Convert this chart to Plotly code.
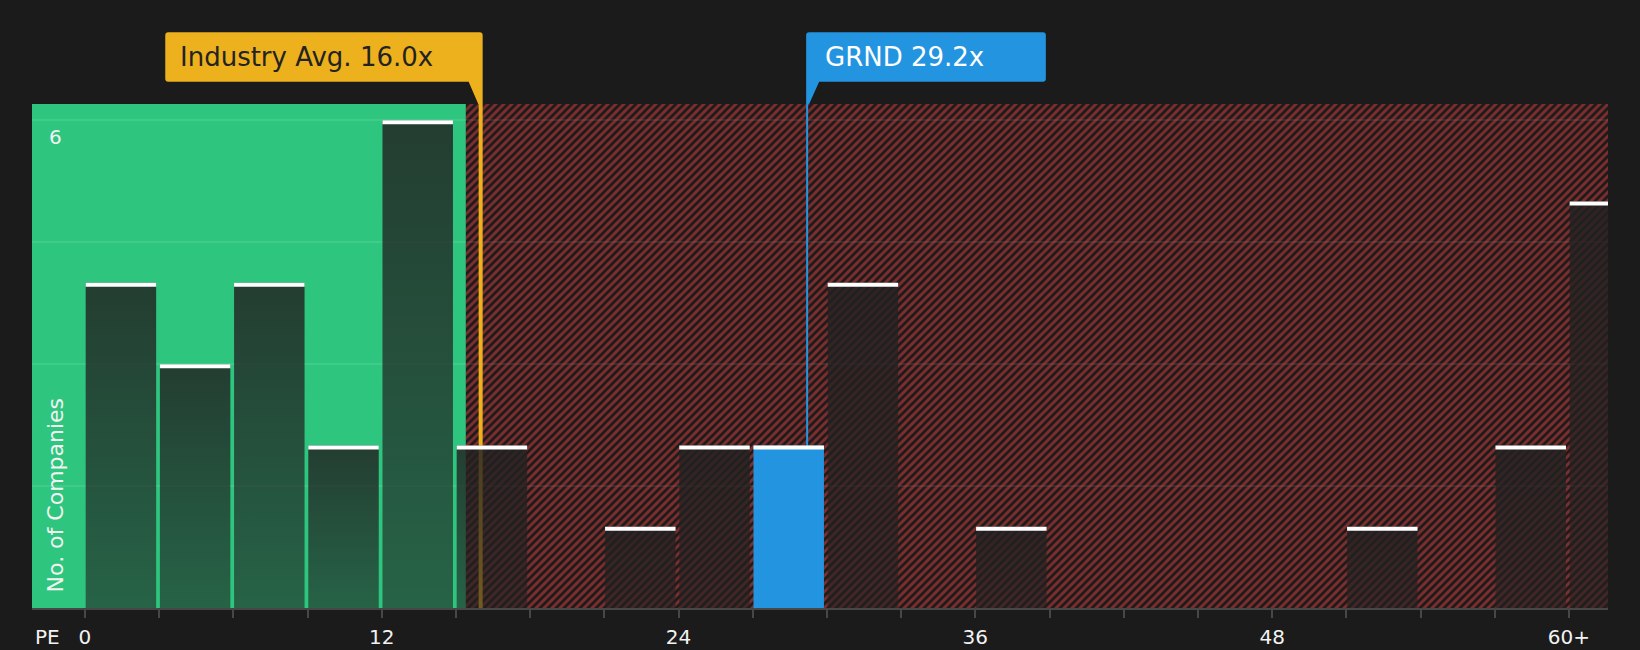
import plotly.graph_objects as go

# peers grouped by PE ratio, bins 3x wide (last bin is 60x and above)
bin_starts = [0, 3, 6, 9, 12, 15, 18, 21, 24, 27, 30, 33, 36, 39, 42, 45, 48, 51, 54, 57, 60]
companies = [4, 3, 4, 2, 6, 2, 0, 1, 2, 2, 4, 0, 1, 0, 0, 0, 0, 1, 0, 2, 5]

x_ticks = [0, 12, 24, 36, 48, 60]
x_tick_text = ['0', '12', '24', '36', '48', '60+']
y_grid = [1.5, 3, 4.5, 6]

industry_avg = 16.0
company_name = 'GRND'
company_pe = 29.2
green_zone_end = 15.4

x_range = [-2.14, 61.58]
y_range = [0, 6.2]
bin_width = 3
bar_width = 2.85
bar_pad = 0.03

BG = '#1b1b1b'
GREEN = '#2ec67f'
RED = '#e5403f'
YELLOW = '#eeb11e'
BLUE = '#2394df'
AXIS = '#474747'
FONT = 'DejaVu Sans'

fig = go.Figure()

# red hatched zone to the right of the green band
fig.add_trace(go.Scatter(
    x=[green_zone_end, green_zone_end, x_range[1], x_range[1], green_zone_end],
    y=[y_range[0], y_range[1], y_range[1], y_range[0], y_range[0]],
    mode='none', fill='toself', fillcolor='rgba(0,0,0,0)',
    fillpattern=dict(shape='/', fgcolor=RED, bgcolor='rgba(0,0,0,0)', size=5.657, solidity=0.5),
    hoverinfo='skip', showlegend=False))

# marker lines (under the bars)
for val, col, w in [(industry_avg, YELLOW, 4), (company_pe, BLUE, 2)]:
    fig.add_trace(go.Scatter(x=[val, val], y=y_range, mode='lines',
                             line=dict(color=col, width=w), hoverinfo='skip', showlegend=False))

for start, n in zip(bin_starts, companies):
    if n == 0:
        continue
    x0 = start + bar_pad
    x1 = x0 + bar_width
    bar = go.Scatter(x=[x0, x0, x1, x1, x0], y=[0, n, n, 0, 0], mode='none', fill='toself',
                     hoverinfo='skip', showlegend=False)
    if start <= company_pe < start + bin_width:
        bar.fillcolor = BLUE
    else:
        bar.fillgradient = dict(type='vertical',
                                colorscale=[[0, 'rgba(33,33,33,0.6)'], [1, 'rgba(33,33,33,0.83)']])
    fig.add_trace(bar)
    # white cap on top of each bar
    fig.add_shape(type='rect', xref='x', yref='y', x0=x0, x1=x1,
                  ysizemode='pixel', yanchor=n, y0=0, y1=-4,
                  fillcolor='white', line_width=0)

# green band
fig.add_shape(type='rect', xref='x', yref='paper', x0=x_range[0], x1=green_zone_end, y0=0, y1=1,
              fillcolor=GREEN, line_width=0, layer='below')


def callout(left, right, tail_left):
    # pixel offsets from the marker line, y counted up from the top of the plot
    b, t, r = 22.3, 71.7, 3
    if tail_left:
        return (f'M {left},0 L {left + 3},0 L {left + 13},{b} L {right - r},{b} '
                f'Q {right},{b} {right},{b + r} L {right},{t - r} Q {right},{t} {right - r},{t} '
                f'L {left + r},{t} Q {left},{t} {left},{t - r} Z')
    return (f'M {right},0 L {right - 4.4},0 L {right - 14},{b} L {left + r},{b} '
            f'Q {left},{b} {left},{b + r} L {left},{t - r} Q {left},{t} {left + r},{t} '
            f'L {right - r},{t} Q {right},{t} {right},{t - r} Z')


fig.add_shape(type='path', xref='x', yref='paper', xsizemode='pixel', ysizemode='pixel',
              xanchor=industry_avg, yanchor=1, path=callout(-315.4, 2, False),
              fillcolor=YELLOW, line_width=0)
fig.add_shape(type='path', xref='x', yref='paper', xsizemode='pixel', ysizemode='pixel',
              xanchor=company_pe, yanchor=1, path=callout(-1, 238.7, True),
              fillcolor=BLUE, line_width=0)

fig.add_annotation(x=industry_avg, xref='x', y=1, yref='paper', xanchor='left', yanchor='middle',
                   xshift=-303, yshift=47, showarrow=False,
                   text=f'Industry Avg. {industry_avg:.1f}x', font=dict(size=26, color='#232323'))
fig.add_annotation(x=company_pe, xref='x', y=1, yref='paper', xanchor='left', yanchor='middle',
                   xshift=16, yshift=47, showarrow=False,
                   text=f'{company_name} {company_pe:.1f}x', font=dict(size=26, color='white'))

fig.add_annotation(x=0.0146, xref='paper', y=0.027, yref='paper', xanchor='center', yanchor='bottom',
                   textangle=-90, showarrow=False, text='No. of Companies',
                   font=dict(size=22, color='#f2f2f2'))
fig.add_annotation(x=0.0152, xref='paper', y=y_grid[-1], yref='y', xanchor='center', yanchor='middle',
                   yshift=-17, showarrow=False, text='6', font=dict(size=20, color='#f2f2f2'))
fig.add_annotation(x=0.01, xref='paper', y=-0.058, yref='paper', xanchor='center', yanchor='middle',
                   showarrow=False, text='PE', font=dict(size=20, color='#f2f2f2'))

fig.update_xaxes(range=x_range, tickvals=x_ticks, ticktext=x_tick_text, ticks='outside', ticklen=8,
                 tickwidth=2, tickcolor=AXIS, showline=True, linecolor=AXIS, linewidth=2,
                 showgrid=False, zeroline=False, tickfont=dict(size=20, color='#f2f2f2'),
                 ticklabelstandoff=2, automargin=False,
                 minor=dict(tickvals=bin_starts, ticks='outside', ticklen=8, tickwidth=2,
                            tickcolor=AXIS, showgrid=False))
fig.update_yaxes(range=y_range, tickvals=y_grid, showticklabels=False, showgrid=True,
                 gridcolor='rgba(255,255,255,0.09)', gridwidth=2, zeroline=False, automargin=False)

fig.update_layout(width=1640, height=650, margin=dict(l=32, r=32, t=104, b=42),
                  paper_bgcolor=BG, plot_bgcolor=BG, font=dict(family=FONT),
                  showlegend=False, hovermode=False)

fig.write_html('out.html', config={'displayModeBar': False},
               post_script="document.body.style.margin='0';document.body.style.background='#1b1b1b';")
